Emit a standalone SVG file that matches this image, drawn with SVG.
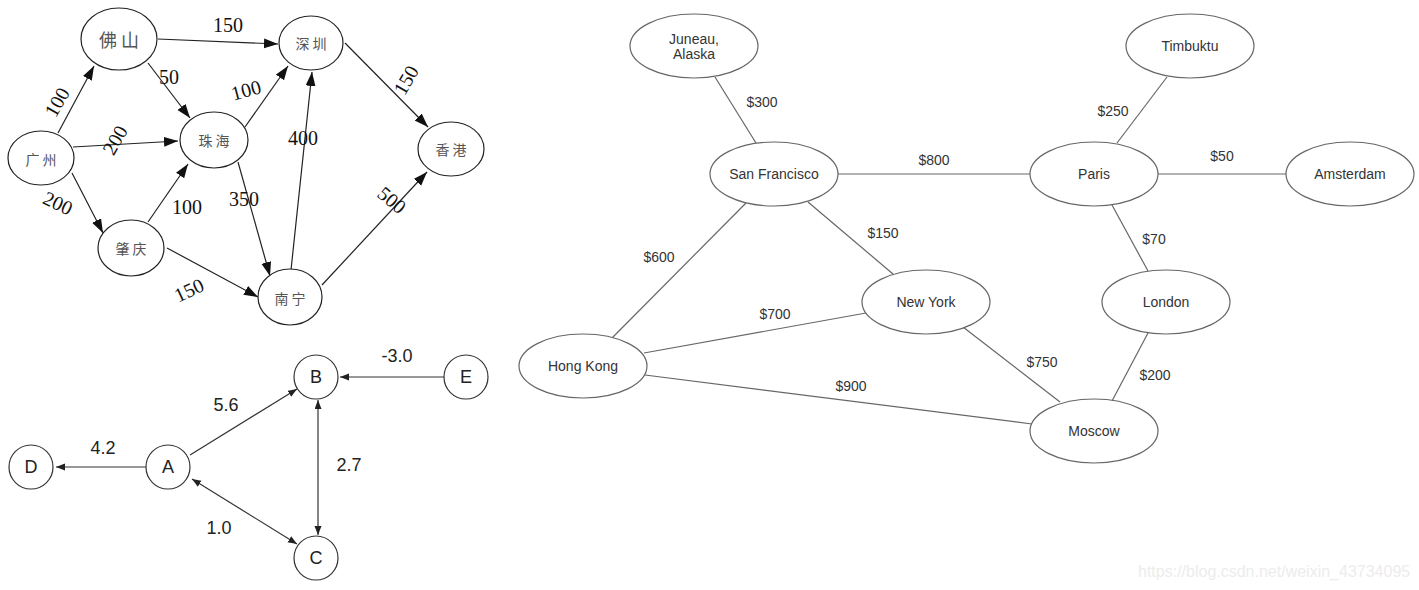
<svg xmlns="http://www.w3.org/2000/svg" width="1419" height="590" viewBox="0 0 1419 590">
<style>
.bg{fill:#fff}
.cn{fill:#fff;stroke:#222;stroke-width:1.2}
.cnt{font-family:"Noto Sans CJK SC",sans-serif;font-size:14px;fill:#555;text-anchor:middle;dominant-baseline:central}
.ce{stroke:#222;stroke-width:1.2;fill:none;marker-end:url(#big)}
.cl{font-family:"Liberation Serif",serif;font-size:20px;fill:#111;text-anchor:middle;dominant-baseline:central}
.ab{fill:#fff;stroke:#333;stroke-width:1.2}
.abt{font-family:"Liberation Sans",sans-serif;font-size:18px;fill:#222;text-anchor:middle;dominant-baseline:central}
.ae{stroke:#333;stroke-width:1.2;fill:none;marker-end:url(#sm)}
.ae2{stroke:#333;stroke-width:1.2;fill:none;marker-end:url(#sm);marker-start:url(#sm)}
.rn{fill:#fff;stroke:#666;stroke-width:1.2}
.rt{font-family:"Liberation Sans",sans-serif;font-size:14px;fill:#333;text-anchor:middle;dominant-baseline:central}
.re{stroke:#666;stroke-width:1.2;fill:none}
.wm{font-family:"Liberation Sans",sans-serif;font-size:16px;fill:#ececec}
</style>
<defs>
<marker id="big" markerUnits="userSpaceOnUse" markerWidth="15" markerHeight="11" refX="14" refY="5" orient="auto-start-reverse"><path d="M0,0 L14,5 L0,10 z" fill="#111"/></marker>
<marker id="sm" markerUnits="userSpaceOnUse" markerWidth="10" markerHeight="8" refX="9" refY="3.5" orient="auto-start-reverse"><path d="M0,0 L9,3.5 L0,7 z" fill="#222"/></marker>
</defs>
<rect class="bg" x="0" y="0" width="1419" height="590"/>

<g id="connectors">
  <line class="ce" x1="58" y1="133" x2="94" y2="66"/>
  <line class="ce" x1="73" y1="147" x2="178" y2="141"/>
  <line class="ce" x1="72" y1="173" x2="103" y2="233"/>
  <line class="ce" x1="158" y1="39" x2="278" y2="44"/>
  <line class="ce" x1="148" y1="63" x2="190" y2="118"/>
  <line class="ce" x1="245" y1="127" x2="288" y2="66"/>
  <line class="ce" x1="148" y1="222" x2="188" y2="164"/>
  <line class="ce" x1="238" y1="162" x2="270" y2="276"/>
  <line class="ce" x1="167" y1="248" x2="258" y2="297"/>
  <line class="ce" x1="291" y1="270" x2="312" y2="72"/>
  <line class="ce" x1="322" y1="285" x2="427" y2="172"/>
  <line class="ce" x1="345" y1="43" x2="428" y2="127"/>
  <line class="ae" x1="444" y1="377" x2="340" y2="377"/>
  <line class="ae" x1="190" y1="455" x2="297" y2="389"/>
  <line class="ae" x1="146" y1="467" x2="56" y2="467"/>
  <line class="ae2" x1="192" y1="479" x2="297" y2="544"/>
  <line class="ae2" x1="318" y1="400" x2="318" y2="535"/>
  <line class="re" x1="715" y1="77" x2="756" y2="143"/>
  <line class="re" x1="838" y1="174" x2="1030" y2="174"/>
  <line class="re" x1="746" y1="203" x2="612" y2="338"/>
  <line class="re" x1="808" y1="202" x2="893" y2="274"/>
  <line class="re" x1="1117" y1="143" x2="1167" y2="77"/>
  <line class="re" x1="1158" y1="174" x2="1286" y2="174"/>
  <line class="re" x1="1112" y1="205" x2="1148" y2="271"/>
  <line class="re" x1="644" y1="353" x2="866" y2="313"/>
  <line class="re" x1="645" y1="375" x2="1032" y2="424"/>
  <line class="re" x1="963" y1="327" x2="1060" y2="402"/>
  <line class="re" x1="1148" y1="333" x2="1112" y2="401"/>
</g>

<g id="edge-labels">
  <text class="cl" transform="translate(57,102) rotate(-60)">100</text>
  <text class="cl" transform="translate(115,140) rotate(-60)">200</text>
  <text class="cl" transform="translate(58,203) rotate(25)">200</text>
  <text class="cl" x="228" y="25">150</text>
  <text class="cl" x="169" y="77">50</text>
  <text class="cl" transform="translate(246,90) rotate(-15)">100</text>
  <text class="cl" x="187" y="207">100</text>
  <text class="cl" x="244" y="199">350</text>
  <text class="cl" transform="translate(189,290) rotate(-25)">150</text>
  <text class="cl" x="303" y="138">400</text>
  <text class="cl" transform="translate(392,200) rotate(40)">500</text>
  <text class="cl" transform="translate(406,80) rotate(-60)">150</text>

  <text class="abt" x="397" y="356">-3.0</text>
  <text class="abt" x="226" y="405">5.6</text>
  <text class="abt" x="103" y="448">4.2</text>
  <text class="abt" x="219" y="528">1.0</text>
  <text class="abt" x="349" y="465">2.7</text>

  <text class="rt" x="762" y="102">$300</text>
  <text class="rt" x="934" y="160">$800</text>
  <text class="rt" x="659" y="257">$600</text>
  <text class="rt" x="883" y="233">$150</text>
  <text class="rt" x="1113" y="111">$250</text>
  <text class="rt" x="1222" y="156">$50</text>
  <text class="rt" x="1154" y="239">$70</text>
  <text class="rt" x="775" y="314">$700</text>
  <text class="rt" x="851" y="386">$900</text>
  <text class="rt" x="1042" y="362">$750</text>
  <text class="rt" x="1155" y="375">$200</text>
</g>

<g id="foshan"><ellipse class="cn" cx="119" cy="39" rx="38" ry="31"/><text class="cnt" x="119" y="39" style="font-size:18px">佛 山</text></g>
<g id="shenzhen"><ellipse class="cn" cx="311" cy="43" rx="32" ry="27"/><text class="cnt" x="311" y="43">深 圳</text></g>
<g id="zhuhai"><ellipse class="cn" cx="214" cy="140" rx="34" ry="28"/><text class="cnt" x="214" y="140">珠 海</text></g>
<g id="guangzhou"><ellipse class="cn" cx="41" cy="158" rx="33" ry="27"/><text class="cnt" x="41" y="159">广 州</text></g>
<g id="xianggang"><ellipse class="cn" cx="451" cy="149" rx="33" ry="27"/><text class="cnt" x="451" y="149">香 港</text></g>
<g id="zhaoqing"><ellipse class="cn" cx="131" cy="248" rx="33" ry="28"/><text class="cnt" x="131" y="248">肇 庆</text></g>
<g id="nanning"><ellipse class="cn" cx="290" cy="297" rx="32" ry="28"/><text class="cnt" x="290" y="298">南 宁</text></g>

<g id="B"><circle class="ab" cx="316" cy="377" r="22"/><text class="abt" x="316" y="377">B</text></g>
<g id="E"><circle class="ab" cx="466" cy="377" r="22"/><text class="abt" x="466" y="377">E</text></g>
<g id="A"><circle class="ab" cx="168" cy="467" r="22"/><text class="abt" x="168" y="467">A</text></g>
<g id="D"><circle class="ab" cx="31" cy="467" r="22"/><text class="abt" x="31" y="467">D</text></g>
<g id="C"><circle class="ab" cx="316" cy="558" r="22"/><text class="abt" x="316" y="558">C</text></g>

<g id="juneau"><ellipse class="rn" cx="694" cy="46" rx="64" ry="32"/><text class="rt" x="694" y="39">Juneau,</text><text class="rt" x="694" y="54">Alaska</text></g>
<g id="sanfrancisco"><ellipse class="rn" cx="774" cy="174" rx="64" ry="32"/><text class="rt" x="774" y="174">San Francisco</text></g>
<g id="paris"><ellipse class="rn" cx="1094" cy="174" rx="64" ry="32"/><text class="rt" x="1094" y="174">Paris</text></g>
<g id="timbuktu"><ellipse class="rn" cx="1190" cy="46" rx="64" ry="32"/><text class="rt" x="1190" y="46">Timbuktu</text></g>
<g id="amsterdam"><ellipse class="rn" cx="1350" cy="174" rx="64" ry="32"/><text class="rt" x="1350" y="174">Amsterdam</text></g>
<g id="newyork"><ellipse class="rn" cx="926" cy="302" rx="64" ry="32"/><text class="rt" x="926" y="302">New York</text></g>
<g id="london"><ellipse class="rn" cx="1166" cy="302" rx="64" ry="32"/><text class="rt" x="1166" y="302">London</text></g>
<g id="hongkong"><ellipse class="rn" cx="583" cy="366" rx="64" ry="32"/><text class="rt" x="583" y="366">Hong Kong</text></g>
<g id="moscow"><ellipse class="rn" cx="1094" cy="431" rx="64" ry="32"/><text class="rt" x="1094" y="431">Moscow</text></g>

<text class="wm" x="1138" y="577">https://blog.csdn.net/weixin_43734095</text>
</svg>
